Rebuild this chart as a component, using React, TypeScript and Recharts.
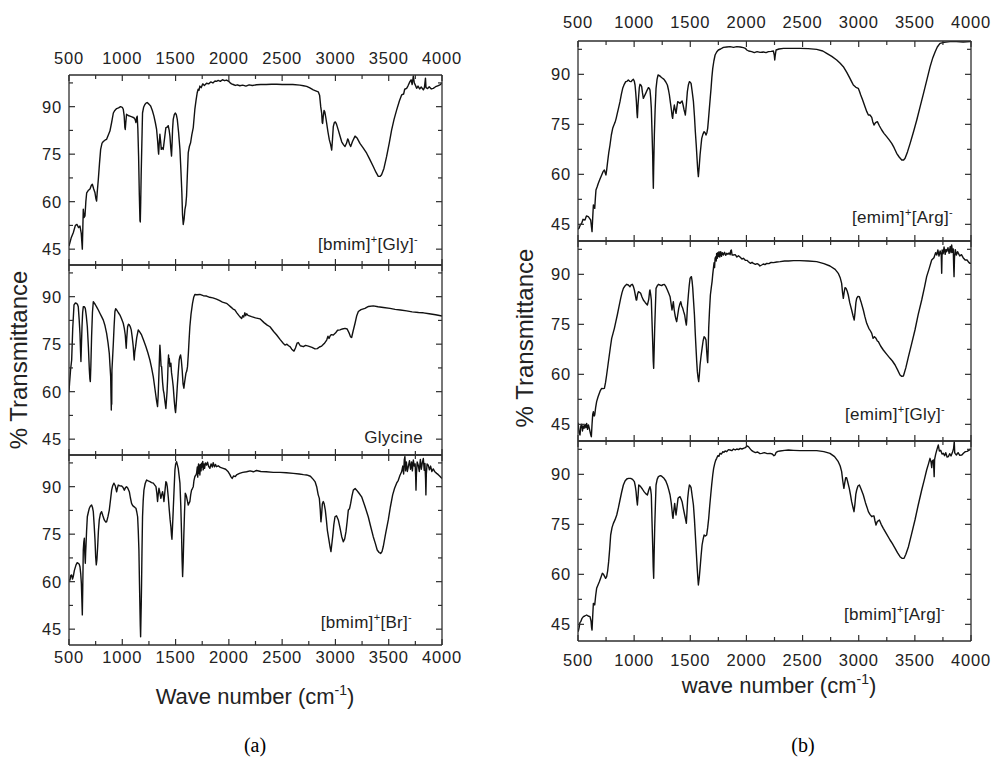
import React from 'react';
import { LineChart, Line, XAxis, YAxis } from 'recharts';

type Pt = [number, number];

// wavenumber ticks every 250 cm-1, labelled every 500
const wnTicks = [500, 750, 1000, 1250, 1500, 1750, 2000, 2250, 2500, 2750, 3000, 3250, 3500, 3750, 4000];
// transmittance ticks every 7.5 %, labelled every 15
const tTicks = [45, 52.5, 60, 67.5, 75, 82.5, 90, 97.5];

// (a) [bmim]+[Gly]-
const bmimGly: Pt[] = [
  [500, 46], [520, 48.5], [540, 50.2], [560, 52.5], [575, 52.8], [590, 51.8], [603, 52.3], [615, 50], [625, 45], [630, 52],
  [634, 57.6], [642, 55], [650, 55.5], [658, 60], [666, 62.8], [680, 63.5], [697, 64], [710, 65.2], [719, 65.5], [732, 64],
  [744, 62.8], [752, 61], [759, 60.2], [765, 63], [775, 67], [786, 72], [797, 76.5], [810, 78.5], [822, 79], [840, 79.5],
  [853, 79.7], [868, 81], [884, 82.3], [900, 85], [916, 88], [930, 88.8], [947, 89.4], [965, 89.6], [984, 90], [1000, 89.8],
  [1009, 89.2], [1018, 87], [1024, 83.5], [1028, 82.8], [1033, 85], [1040, 87.6], [1055, 87.2], [1072, 87], [1090, 86.8],
  [1109, 86.5], [1120, 86], [1128, 85], [1134, 86.5], [1140, 87], [1146, 83], [1153, 74.4], [1160, 62], [1166, 54],
  [1169, 53.6], [1173, 60], [1177, 68], [1181, 74.4], [1186, 82], [1190, 88], [1200, 89.8], [1212, 90.7], [1225, 91.2],
  [1234, 91.3], [1250, 90.8], [1266, 90.2], [1282, 88.8], [1297, 87], [1310, 85], [1322, 82.8], [1332, 79], [1338, 76],
  [1341, 75], [1346, 78], [1353, 81.3], [1360, 79], [1366, 76.5], [1375, 77], [1384, 76.5], [1395, 79.5], [1409, 83.4],
  [1420, 83.5], [1431, 84], [1440, 82.5], [1447, 80.7], [1455, 77], [1462, 74.4], [1468, 79], [1472, 83], [1478, 86],
  [1488, 87.5], [1497, 88], [1507, 87.5], [1516, 86], [1528, 82], [1541, 76.5], [1550, 70], [1559, 62.8], [1565, 56],
  [1572, 52.8], [1580, 54.5], [1588, 57.6], [1596, 59], [1603, 61.8], [1610, 68], [1619, 75.5], [1630, 77.5], [1641, 78.6],
  [1652, 81], [1666, 83.4], [1674, 86.5], [1681, 89.2], [1692, 92], [1703, 94.4], [1712, 95.5], [1720, 95.2], [1728, 96.5],
  [1740, 96], [1755, 97.2], [1770, 96.7], [1791, 97.4], [1810, 97.2], [1830, 97.8], [1850, 97.5], [1870, 98.1], [1884, 98],
  [1900, 98.3], [1920, 98], [1940, 98.5], [1960, 98.2], [1978, 98.4], [1995, 98.1], [2010, 97.6], [2025, 97.2], [2041, 97],
  [2060, 96.7], [2080, 96.9], [2103, 96.6], [2130, 96.8], [2160, 96.5], [2190, 96.9], [2220, 96.7], [2260, 96.9], [2300, 97],
  [2350, 97], [2400, 97.1], [2450, 97.1], [2500, 97], [2550, 97], [2600, 97], [2667, 96.8], [2700, 96.6], [2730, 96.4],
  [2760, 95.9], [2792, 95.3], [2815, 95], [2839, 94.7], [2852, 93.5], [2862, 90], [2871, 87.9], [2876, 85], [2880, 84.7],
  [2886, 87], [2893, 88.8], [2900, 88.4], [2910, 86.5], [2918, 84.7], [2930, 82], [2943, 79.5], [2955, 78], [2965, 76.3],
  [2972, 79.5], [2980, 83.7], [2990, 85], [2999, 85.2], [3010, 84.5], [3027, 82.6], [3045, 80.5], [3059, 78.9], [3075, 78],
  [3090, 77.4], [3105, 78.5], [3115, 79.8], [3121, 79.5], [3132, 78.2], [3143, 77.4], [3160, 79], [3184, 80.7], [3205, 80],
  [3230, 78.4], [3260, 77], [3293, 75.3], [3320, 73.5], [3355, 71.1], [3380, 69.3], [3402, 68], [3420, 68], [3433, 68.5],
  [3455, 70.5], [3480, 74.2], [3505, 78.5], [3527, 82.6], [3550, 86], [3574, 88.9], [3600, 91.8], [3621, 93.7], [3640, 94],
  [3650, 95.5], [3668, 95.8], [3680, 96.5], [3699, 97.9], [3710, 98.5], [3720, 97], [3731, 99.7], [3740, 97.5], [3750, 96.8],
  [3762, 95.8], [3775, 96.5], [3790, 95.6], [3805, 96.2], [3825, 95.3], [3835, 96], [3845, 99], [3850, 96], [3865, 95.7],
  [3880, 96.3], [3900, 95.6], [3918, 95.8], [3940, 96.3], [3960, 96.6], [3980, 96.9], [4000, 97.4],
];

// (a) glycine
const glycine: Pt[] = [
  [500, 60], [505, 62.6], [515, 67], [525, 70], [535, 80], [547, 87.4], [560, 88], [572, 87.9], [580, 87.5], [587, 86.8],
  [595, 83], [603, 78.4], [608, 73], [612, 69.5], [616, 74], [622, 80.5], [628, 85], [634, 86.8], [645, 86.8], [653, 86.3],
  [662, 84], [672, 80.5], [682, 74], [691, 66.8], [696, 64], [700, 63.2], [705, 68], [712, 77.4], [720, 85], [728, 88.4],
  [745, 87.6], [759, 86.8], [775, 85.8], [791, 84.7], [806, 83.7], [822, 82.6], [838, 80.8], [853, 78.4], [866, 75.5],
  [878, 72.1], [885, 68], [891, 64.7], [894, 59], [897, 54.2], [899, 60], [901, 56], [903, 66.8], [908, 70], [916, 75.3],
  [923, 80.5], [931, 85.3], [938, 86.2], [947, 85.8], [962, 85], [978, 84.2], [993, 83], [1009, 81.6], [1019, 80],
  [1028, 77.9], [1033, 75.5], [1037, 73.7], [1042, 77], [1050, 80.5], [1058, 81.3], [1066, 81.1], [1075, 80.5], [1084, 79.5],
  [1094, 77], [1103, 74.2], [1108, 71.5], [1112, 70], [1117, 72.5], [1125, 74.2], [1135, 77], [1150, 79.5], [1165, 78.8],
  [1181, 77.9], [1200, 76.2], [1222, 74.2], [1240, 72.3], [1259, 70], [1275, 67.5], [1291, 64.7], [1302, 62], [1312, 59.5],
  [1322, 57], [1331, 55.3], [1337, 59], [1344, 65.8], [1350, 72], [1353, 74.7], [1358, 72], [1364, 68], [1369, 67.9],
  [1378, 63], [1385, 60.5], [1391, 59.5], [1400, 57], [1409, 54.7], [1416, 58], [1420, 60], [1425, 63.7], [1430, 69],
  [1434, 71.6], [1437, 69], [1441, 70.5], [1447, 67.9], [1456, 69], [1462, 66], [1470, 64], [1478, 61.6], [1488, 57],
  [1495, 54.5], [1500, 53.4], [1506, 56], [1516, 61.6], [1525, 66], [1534, 70], [1540, 71], [1547, 71.6], [1554, 70],
  [1562, 66.8], [1570, 62.5], [1578, 61.1], [1585, 63], [1597, 65.8], [1605, 66.5], [1612, 67.9], [1620, 72], [1627, 76.5],
  [1634, 80.5], [1645, 84.5], [1659, 87.9], [1670, 89.8], [1681, 90.7], [1700, 90.6], [1728, 90.7], [1760, 90.3],
  [1791, 90.2], [1820, 89.8], [1850, 89.6], [1884, 89.2], [1910, 88.8], [1940, 88.3], [1978, 87.9], [2000, 87.3],
  [2020, 86.7], [2040, 86.1], [2056, 85.8], [2075, 84.9], [2095, 84], [2110, 83.4], [2120, 83.1], [2130, 84], [2140, 83.6],
  [2150, 84.9], [2158, 84], [2167, 84.6], [2180, 84.1], [2213, 83.7], [2250, 83.3], [2292, 83], [2330, 81.8], [2360, 81],
  [2386, 80.5], [2420, 79], [2449, 77.9], [2480, 76.5], [2510, 75.3], [2527, 74.7], [2545, 75], [2560, 74.5], [2574, 74.2],
  [2590, 73.4], [2611, 72.8], [2625, 73.8], [2640, 75.3], [2652, 75.5], [2670, 74.5], [2699, 74.2], [2720, 74.6],
  [2746, 74.4], [2780, 74], [2808, 73.5], [2830, 73.6], [2850, 74.1], [2871, 74.4], [2895, 75.2], [2918, 76.3], [2930, 77.5],
  [2940, 76.8], [2950, 77.6], [2960, 78], [2980, 77.9], [3000, 78.5], [3020, 79.4], [3043, 79.5], [3065, 79.8], [3090, 80],
  [3110, 79.8], [3130, 78.4], [3142, 77.3], [3152, 77.1], [3165, 79], [3184, 81.6], [3200, 84], [3215, 85.3], [3240, 85.9],
  [3277, 86.3], [3310, 86.9], [3355, 87.1], [3400, 86.8], [3450, 86.6], [3512, 86.3], [3560, 86], [3610, 85.8],
  [3668, 85.5], [3720, 85.2], [3780, 85], [3825, 84.9], [3880, 84.6], [3940, 84.3], [4000, 83.9],
];

// (a) [bmim]+[Br]-
const bmimBr: Pt[] = [
  [500, 60.5], [509, 60.5], [517, 62], [525, 62.1], [533, 60.8], [540, 61.6], [550, 63.5], [566, 65.3], [577, 66], [587, 65.8],
  [596, 65.5], [603, 64.7], [610, 62.5], [616, 59.5], [621, 54], [625, 49.5], [629, 58], [634, 70], [639, 72.5], [644, 73.7],
  [648, 69], [653, 65.8], [656, 69], [659, 71.1], [665, 76], [672, 80.5], [682, 82], [691, 83.2], [700, 83.8], [712, 84.2],
  [720, 83.5], [728, 82.1], [736, 78], [744, 73.2], [750, 68], [756, 65.3], [762, 67], [769, 71.1], [776, 76], [784, 79.5],
  [795, 81.5], [806, 82.1], [818, 80.8], [831, 79.5], [845, 78.8], [853, 78.9], [866, 80.6], [878, 82.6], [890, 86],
  [900, 88.9], [910, 90.3], [922, 91.1], [935, 90.2], [947, 88.4], [955, 89.6], [962, 90.5], [975, 90.3], [994, 90.2],
  [1006, 89.8], [1019, 88.9], [1030, 89.7], [1040, 90], [1052, 89.5], [1066, 88.4], [1076, 86.5], [1087, 84.7], [1098, 84],
  [1109, 83.7], [1120, 83.4], [1128, 83.2], [1136, 82], [1144, 80.5], [1150, 76], [1156, 70], [1161, 60], [1166, 51.1],
  [1169, 46], [1172, 42.6], [1175, 48], [1178, 53], [1181, 59.5], [1185, 70], [1190, 80.5], [1196, 85.5], [1203, 88.9],
  [1215, 91], [1228, 92.1], [1243, 91.8], [1259, 91.6], [1275, 91.3], [1291, 91.1], [1305, 90.5], [1316, 90], [1324, 88],
  [1331, 85.3], [1337, 87.5], [1344, 89.5], [1353, 88], [1362, 86.3], [1370, 87.5], [1378, 88.4], [1385, 87], [1391, 85.3],
  [1400, 88.5], [1409, 91.6], [1416, 91.2], [1422, 90], [1432, 86.5], [1441, 82.6], [1449, 79.5], [1456, 77.4], [1462, 74.5],
  [1466, 73.4], [1471, 77], [1478, 82.6], [1486, 89], [1494, 95.3], [1500, 97], [1509, 97.9], [1517, 96.9], [1525, 95.8],
  [1533, 93.5], [1541, 91.1], [1549, 84], [1556, 75.3], [1561, 67], [1566, 61.6], [1571, 66], [1578, 75.3], [1584, 82],
  [1591, 87.9], [1597, 87.5], [1603, 86.8], [1611, 85.5], [1619, 84.2], [1626, 84.8], [1634, 85.3], [1642, 87.5],
  [1650, 88.9], [1658, 89.4], [1666, 90], [1672, 91.8], [1681, 93.2], [1690, 93.6], [1697, 94.2], [1704, 96.2], [1708, 93],
  [1712, 95.8], [1716, 97.2], [1720, 94.2], [1724, 96.8], [1728, 93.7], [1734, 97], [1739, 95], [1744, 97.4], [1750, 96.2],
  [1755, 98], [1759, 95.3], [1766, 97.2], [1772, 95.8], [1780, 97.5], [1791, 96.8], [1800, 97.7], [1810, 96.4], [1822, 95.8],
  [1833, 97.2], [1845, 96.2], [1853, 97.6], [1865, 96.3], [1875, 97], [1884, 96.3], [1900, 96.6], [1920, 96.1], [1947, 95.8],
  [1970, 95.5], [1994, 94.7], [2010, 93.8], [2020, 93.1], [2031, 92.6], [2045, 93.4], [2060, 93.2], [2072, 93.7],
  [2100, 94.2], [2130, 94.5], [2166, 94.7], [2200, 95], [2230, 94.7], [2259, 95.1], [2300, 94.8], [2350, 94.7], [2417, 94.5],
  [2480, 94.5], [2540, 94.4], [2605, 94.2], [2660, 94], [2700, 93.8], [2730, 93.7], [2765, 93.3], [2792, 92.3], [2810, 91.5],
  [2824, 90], [2838, 87.5], [2849, 86.3], [2857, 83], [2864, 78.9], [2870, 81], [2877, 84.5], [2886, 85.3], [2895, 84.5],
  [2905, 82.6], [2915, 79.5], [2924, 76.3], [2935, 74], [2949, 71.1], [2958, 69.5], [2965, 71.5], [2974, 74.2], [2985, 78],
  [2996, 80.5], [3010, 80.8], [3027, 79.5], [3043, 77], [3059, 74.2], [3074, 72.6], [3087, 73.5], [3099, 75.8], [3110, 79],
  [3121, 82.6], [3132, 83], [3143, 84.7], [3155, 87], [3168, 88.9], [3185, 89.4], [3199, 88.9], [3220, 88], [3246, 86.8],
  [3275, 84], [3308, 80.5], [3330, 77.5], [3355, 74.2], [3375, 72], [3392, 70], [3410, 69.2], [3424, 68.9], [3437, 69.5],
  [3449, 71.1], [3470, 75], [3496, 79.5], [3515, 83.5], [3537, 87.4], [3555, 89.5], [3574, 91.1], [3590, 92], [3605, 93.5],
  [3621, 94.7], [3632, 96.5], [3640, 94], [3646, 98.5], [3652, 99.5], [3658, 95], [3666, 97.8], [3675, 94.8], [3684, 96.3],
  [3695, 98.2], [3705, 95.5], [3715, 97.8], [3722, 95], [3731, 98.4], [3740, 96.5], [3748, 97.2], [3753, 93], [3756, 88.9],
  [3760, 94], [3767, 97.8], [3777, 96.8], [3787, 94.8], [3797, 98.6], [3806, 95.5], [3815, 97.5], [3825, 98.9], [3833, 95.2],
  [3840, 97.3], [3846, 92], [3849, 87.4], [3853, 94], [3860, 97.2], [3871, 96.8], [3882, 95.3], [3893, 96.5], [3905, 94.8],
  [3918, 95.6], [3933, 94.7], [3950, 94.2], [3965, 93.8], [3980, 93.3], [4000, 92.6],
];

// (b) [emim]+[Arg]-
const emimArg: Pt[] = [
  [500, 43.5], [509, 43.8], [520, 44.8], [533, 45.3], [545, 46.5], [562, 46.3], [575, 47.5], [592, 47.3], [603, 46.8],
  [613, 46.3], [619, 44.5], [625, 42.8], [631, 47], [637, 50.8], [643, 50.5], [649, 49.8], [655, 53], [660, 55.3], [670, 56.2],
  [681, 57.3], [695, 58.5], [711, 59.8], [723, 60.8], [735, 61.3], [742, 60.5], [749, 59.8], [756, 61.5], [764, 63.8],
  [774, 66.5], [785, 68.8], [797, 71.8], [809, 73.8], [820, 74.8], [830, 75.6], [840, 76.8], [850, 78.3], [862, 80],
  [874, 81.8], [886, 84], [898, 85.8], [912, 87], [925, 87.8], [936, 87.9], [948, 88.3], [960, 87.9], [972, 87.8],
  [983, 88.2], [993, 88.5], [1001, 88], [1008, 86.8], [1014, 84.5], [1020, 81.8], [1025, 78.5], [1029, 77], [1034, 80.5],
  [1041, 83.8], [1046, 86], [1052, 87], [1060, 86.8], [1067, 86.3], [1074, 84.5], [1082, 82.8], [1092, 83.5], [1103, 84.3],
  [1115, 85.2], [1127, 86], [1135, 85.8], [1141, 85.3], [1147, 83], [1153, 79.8], [1159, 73], [1165, 65.8], [1168, 60],
  [1171, 55.8], [1174, 62], [1177, 67], [1180, 71.8], [1187, 79.5], [1195, 85.8], [1204, 88.5], [1213, 89.8], [1225, 89.6],
  [1236, 89.3], [1250, 88.9], [1266, 88.5], [1282, 87.7], [1296, 86.8], [1306, 85.3], [1314, 83.8], [1323, 81.5],
  [1332, 79.3], [1338, 77.5], [1343, 76.8], [1350, 79], [1358, 80.8], [1365, 79.5], [1373, 78.3], [1380, 80], [1388, 81.8],
  [1398, 81.6], [1409, 81.3], [1418, 81.7], [1427, 82], [1436, 80.8], [1445, 79.3], [1451, 78.5], [1456, 77.8], [1465, 81],
  [1474, 84.8], [1483, 86.8], [1492, 87.8], [1500, 87.6], [1507, 87.3], [1517, 84.8], [1528, 81.8], [1537, 77.5],
  [1545, 72.8], [1553, 68.8], [1560, 64.8], [1566, 61.5], [1572, 59.3], [1580, 62.5], [1587, 65.8], [1595, 68.5],
  [1602, 70.8], [1612, 72], [1623, 72.8], [1632, 72.5], [1640, 71.8], [1648, 72.5], [1655, 73.8], [1662, 76.5], [1670, 79.8],
  [1678, 83], [1685, 85.8], [1692, 89], [1700, 91.8], [1710, 94], [1721, 95.8], [1735, 96.7], [1750, 97.3], [1770, 97.6],
  [1795, 98.1], [1825, 98.2], [1854, 98.3], [1885, 98.1], [1914, 98.3], [1945, 98.2], [1973, 98], [1990, 97.8], [2003, 97.3],
  [2020, 97], [2047, 96.8], [2070, 96.5], [2095, 96.8], [2122, 96.6], [2150, 96.7], [2175, 96.5], [2196, 96.8], [2220, 96.9],
  [2240, 97], [2248, 95.8], [2252, 94.3], [2256, 95.5], [2264, 97.3], [2290, 97.6], [2330, 97.8], [2400, 97.8], [2477, 97.8],
  [2550, 97.7], [2626, 97.5], [2680, 97], [2715, 96.3], [2760, 95.4], [2804, 94.3], [2835, 93.3], [2863, 92.3], [2895, 90.5],
  [2922, 88.8], [2940, 87.6], [2952, 86.8], [2975, 86.1], [2996, 85.8], [3008, 84.8], [3018, 83.8], [3035, 82.3],
  [3056, 80.3], [3072, 78.8], [3086, 77.8], [3100, 77.8], [3116, 77.1], [3125, 75.8], [3136, 74.8], [3150, 75.5],
  [3166, 75.8], [3185, 74.5], [3205, 73.3], [3225, 72.3], [3249, 71.3], [3270, 70.4], [3294, 69.3], [3315, 68], [3338, 66.3],
  [3360, 65.2], [3383, 64.3], [3400, 64.3], [3413, 64.8], [3435, 66.8], [3458, 69.3], [3490, 73], [3517, 76.3], [3547, 80.3],
  [3577, 84.3], [3608, 88.5], [3636, 92.3], [3660, 95], [3681, 96.8], [3700, 98.2], [3724, 99.3], [3760, 99.6], [3813, 99.8],
  [3870, 99.8], [3930, 99.7], [3991, 99.8], [4000, 99.8],
];

// (b) [emim]+[Gly]-
const emimGly: Pt[] = [
  [500, 45.5], [503, 44.8], [510, 42.5], [518, 41.8], [525, 44.5], [533, 45], [540, 43], [547, 44.5], [554, 43.8], [562, 45],
  [570, 44], [577, 45.3], [585, 43.5], [593, 44.8], [601, 43.8], [609, 42.5], [614, 41.8], [619, 41.3], [625, 45], [631, 48],
  [637, 48.8], [643, 47.5], [649, 47.8], [657, 50], [666, 51.8], [678, 53.2], [690, 54.3], [700, 55.2], [711, 55.8],
  [723, 55.7], [735, 55.8], [745, 57.5], [755, 59.8], [767, 62.8], [779, 65.8], [790, 68.5], [800, 70.8], [812, 72.3],
  [824, 73.8], [837, 75.8], [850, 77.8], [865, 80.3], [880, 82.8], [892, 84.5], [904, 85.8], [918, 86.5], [934, 87],
  [948, 86.8], [963, 86.3], [975, 86.9], [984, 87], [993, 86.4], [1002, 85.3], [1012, 83.5], [1018, 82.3], [1023, 82.3],
  [1030, 84], [1038, 84.8], [1048, 84.6], [1058, 84.3], [1070, 83.2], [1082, 82.3], [1100, 81.5], [1118, 80.8], [1130, 82.5],
  [1138, 85], [1141, 85.3], [1147, 84], [1153, 82.3], [1159, 76], [1165, 69.8], [1170, 64], [1174, 61.8], [1178, 67],
  [1183, 73.8], [1189, 80], [1195, 85.8], [1205, 86.5], [1216, 87], [1230, 86.8], [1245, 86.6], [1257, 86.9], [1269, 87],
  [1283, 86.3], [1296, 85.3], [1308, 84.3], [1320, 83.3], [1330, 81], [1337, 79.3], [1343, 80.5], [1349, 81.8], [1356, 79.5],
  [1364, 77.8], [1372, 76.5], [1379, 75.8], [1388, 77.8], [1397, 79.8], [1406, 81], [1415, 81.8], [1424, 80.5], [1433, 79.8],
  [1441, 78.8], [1450, 77.8], [1458, 76], [1465, 74.8], [1468, 76], [1474, 80], [1483, 83.8], [1490, 86.5], [1498, 88.8],
  [1505, 89.2], [1510, 89.3], [1516, 88], [1522, 85.8], [1530, 81.5], [1537, 77.8], [1544, 72.5], [1551, 67.8], [1557, 64],
  [1563, 60.8], [1569, 59], [1575, 57.8], [1581, 60], [1587, 62.8], [1596, 65.5], [1605, 67.8], [1614, 70], [1623, 71.3],
  [1632, 71], [1640, 70.3], [1646, 67], [1652, 64.3], [1655, 63.5], [1659, 67], [1664, 73.8], [1671, 79], [1679, 83.8],
  [1687, 86], [1694, 87.8], [1700, 90], [1706, 91.8], [1712, 93.5], [1716, 92], [1721, 94.8], [1727, 95.3], [1731, 94],
  [1735, 96.3], [1740, 94.8], [1745, 96.5], [1750, 95.3], [1756, 96.8], [1762, 95.2], [1771, 96.8], [1778, 95.4],
  [1785, 96.5], [1795, 95.8], [1805, 96.6], [1815, 95.7], [1825, 96.3], [1835, 96], [1845, 96.4], [1855, 95.9], [1860, 97.1],
  [1866, 97.3], [1872, 95.8], [1884, 95.8], [1900, 95.9], [1915, 95.2], [1929, 95.6], [1945, 95.1], [1960, 94.6],
  [1973, 94.8], [1990, 94.2], [2005, 94.2], [2018, 93.8], [2035, 93.3], [2050, 93.6], [2062, 93.3], [2080, 93], [2095, 93.2],
  [2107, 93], [2120, 92.5], [2136, 92.8], [2150, 93.1], [2165, 92.9], [2181, 93.3], [2200, 93.2], [2220, 93.6], [2240, 93.5],
  [2270, 93.7], [2300, 93.8], [2340, 94], [2374, 94], [2420, 94.1], [2477, 94.1], [2550, 94], [2626, 93.8], [2690, 93.2],
  [2744, 92.5], [2790, 91.5], [2818, 90.3], [2835, 89], [2848, 87.3], [2856, 84.5], [2863, 82.8], [2870, 84.5], [2878, 86],
  [2887, 85.8], [2897, 85], [2907, 83.8], [2920, 81.5], [2937, 79.3], [2950, 77.5], [2960, 76.3], [2967, 78.5], [2975, 81.5],
  [2982, 82.8], [2993, 83.4], [3006, 83.3], [3020, 81.8], [3041, 79.3], [3055, 77.3], [3071, 75.3], [3090, 73.8], [3105, 73],
  [3116, 72.3], [3128, 70.8], [3140, 71.3], [3154, 70.8], [3166, 70], [3175, 69.8], [3195, 68.5], [3219, 67.3], [3250, 66],
  [3279, 64.8], [3300, 64], [3324, 62.8], [3345, 61.4], [3368, 59.8], [3383, 59.4], [3398, 59.5], [3420, 62], [3443, 65.3],
  [3470, 69], [3501, 73.3], [3530, 78], [3561, 82.3], [3585, 86], [3605, 89.3], [3628, 91.8], [3650, 94.3], [3670, 95],
  [3685, 96.5], [3695, 95.8], [3705, 97.3], [3715, 95.5], [3725, 97], [3735, 95.8], [3739, 90.3], [3743, 97.3], [3752, 96.2],
  [3760, 98.2], [3770, 96], [3777, 97.5], [3784, 96.8], [3795, 98], [3805, 96.3], [3815, 98.4], [3822, 96.5], [3828, 98.8],
  [3835, 96.6], [3842, 97.6], [3846, 92], [3849, 89.3], [3853, 95], [3860, 97.4], [3870, 95.8], [3880, 96.8], [3888, 96.3],
  [3900, 95.5], [3915, 95.9], [3930, 95], [3948, 94.3], [3965, 94.3], [3980, 93.6], [3991, 93.3], [4000, 93.3],
];

// (b) [bmim]+[Arg]-
const bmimArg: Pt[] = [
  [500, 42.8], [503, 43], [510, 44], [517, 45.5], [524, 45.8], [536, 46.8], [548, 47.3], [560, 47.5], [577, 47.8], [590, 47.5],
  [607, 47.3], [616, 46], [621, 44], [625, 43.3], [631, 47.5], [637, 51.3], [643, 51.2], [649, 50.8], [657, 53.5], [666, 55.8],
  [678, 56.8], [690, 57.8], [703, 59], [717, 60.3], [727, 60], [738, 59.3], [746, 58.8], [755, 59.3], [764, 61], [773, 63.8],
  [782, 67.5], [791, 71.8], [803, 74], [815, 75.3], [830, 76.4], [845, 77.8], [860, 80], [874, 82.3], [889, 84.7],
  [904, 86.8], [919, 88], [934, 88.6], [950, 88.8], [969, 88.8], [986, 88.5], [1002, 87.8], [1010, 86.5], [1017, 84.8],
  [1023, 82.5], [1029, 80.8], [1035, 83.5], [1041, 86.8], [1050, 86.6], [1058, 86.3], [1073, 85.6], [1088, 84.8],
  [1103, 84.2], [1118, 83.8], [1130, 85.3], [1141, 86.3], [1147, 85.5], [1153, 83.8], [1159, 76], [1165, 68.8], [1170, 62],
  [1174, 58.8], [1178, 66], [1183, 73.8], [1189, 80.5], [1195, 86.8], [1205, 88.5], [1216, 89.3], [1226, 89.5], [1236, 89.6],
  [1250, 89.3], [1266, 88.8], [1282, 88], [1296, 86.8], [1308, 85.4], [1320, 83.8], [1330, 81.5], [1337, 79.3], [1342, 77.5],
  [1346, 76.8], [1353, 79], [1361, 81.3], [1367, 79.5], [1373, 77.8], [1382, 80.3], [1391, 82.8], [1400, 83.1], [1409, 83.3],
  [1418, 82.6], [1427, 81.8], [1438, 79.8], [1450, 77.8], [1458, 76.5], [1465, 75.3], [1471, 79], [1477, 82.8], [1485, 85.3],
  [1492, 86.8], [1500, 86.5], [1507, 86], [1517, 83.5], [1528, 80.8], [1537, 76.5], [1545, 71.8], [1553, 67], [1560, 62.8],
  [1566, 59.5], [1572, 56.8], [1580, 59], [1587, 61.8], [1596, 65.5], [1605, 68.8], [1614, 70.5], [1623, 71.8], [1635, 71.5],
  [1646, 71.8], [1655, 74], [1664, 76.8], [1673, 80.5], [1682, 83.8], [1691, 87], [1700, 89.8], [1708, 91.8], [1718, 93.3],
  [1726, 94.2], [1735, 94.8], [1745, 95.6], [1755, 95.4], [1765, 96.3], [1778, 96.1], [1790, 96.8], [1800, 96.6], [1810, 97],
  [1825, 96.8], [1840, 97.4], [1854, 97.3], [1870, 97.1], [1885, 97.6], [1900, 97.3], [1914, 97.6], [1930, 97.4],
  [1945, 97.8], [1960, 97.6], [1973, 97.8], [1990, 98], [2005, 98.5], [2018, 98.3], [2030, 97.8], [2045, 97.2], [2062, 96.8],
  [2080, 96.5], [2100, 96.7], [2120, 96.2], [2136, 96.3], [2160, 96.5], [2185, 96.2], [2211, 96.3], [2230, 96.1],
  [2245, 95.6], [2255, 95.8], [2265, 96.6], [2280, 96.9], [2300, 97], [2340, 97.2], [2374, 97.3], [2420, 97.2], [2477, 97.1],
  [2550, 97.1], [2626, 97.1], [2690, 96.8], [2744, 96.3], [2785, 95.3], [2818, 93.8], [2835, 92.5], [2848, 90.8], [2858, 88],
  [2868, 85.8], [2876, 87.5], [2884, 89], [2892, 89], [2900, 88], [2916, 85.8], [2927, 83.8], [2937, 81.8], [2948, 80.2],
  [2958, 78.8], [2966, 81], [2974, 84], [2982, 85.3], [2993, 86.5], [3006, 86.8], [3020, 85.7], [3041, 83.8], [3060, 81.5],
  [3075, 80], [3086, 78.8], [3100, 78], [3116, 77.3], [3126, 77.5], [3136, 77.5], [3145, 76], [3154, 74.8], [3165, 75.8],
  [3184, 76.3], [3200, 75], [3219, 73.8], [3250, 72], [3279, 70.3], [3300, 69.2], [3324, 67.8], [3345, 66.5], [3368, 65.3],
  [3385, 64.8], [3404, 64.8], [3420, 66], [3443, 68.3], [3470, 72], [3501, 76.3], [3530, 80.8], [3561, 85.3], [3585, 88.5],
  [3605, 91.3], [3620, 93], [3635, 94.8], [3645, 93.5], [3650, 92], [3655, 94], [3665, 94.3], [3672, 89.3], [3676, 94.5],
  [3685, 96], [3697, 97.5], [3709, 98.8], [3718, 97], [3730, 97.2], [3742, 96.1], [3754, 96.3], [3765, 95.6], [3775, 96.5],
  [3787, 95.2], [3798, 95.3], [3810, 96.2], [3822, 95.5], [3835, 96.6], [3845, 97.8], [3851, 99.8], [3855, 96.5],
  [3858, 96.3], [3870, 95.8], [3885, 96.5], [3900, 95.7], [3918, 95.8], [3935, 96.4], [3950, 96.8], [3965, 96.9],
  [3980, 97.2], [3991, 97.5], [4000, 97.5],
];

const FRAME = '#2e2e2e';
const INK = '#111';
const TXT = '#222';
const SANS = '"Liberation Sans", Arial, Helvetica, sans-serif';
const SERIF = '"Liberation Serif", "Times New Roman", serif';
const TICK_FONT = 16.5;

const frameLine = { stroke: FRAME, strokeWidth: 1.3 };

// ticks point into the plot; minor ticks are shorter and never labelled
const xTick = (side: 'top' | 'bottom', gap: number | null) => (p: any) => {
  const v = p.payload.value;
  const major = v % 500 === 0;
  const dir = side === 'bottom' ? -1 : 1;
  return (
    <g>
      <line x1={p.x} x2={p.x} y1={p.y} y2={p.y + dir * (major ? 6 : 4)} stroke={FRAME} strokeWidth={1.2} />
      {gap !== null && major && (
        <text
          x={p.x}
          y={side === 'bottom' ? p.y + gap : p.y - gap}
          textAnchor="middle"
          fontSize={TICK_FONT}
          letterSpacing={0.8}
          fontFamily={SANS}
          fill={TXT}
        >
          {v}
        </text>
      )}
    </g>
  );
};

const yTick = (side: 'left' | 'right') => (p: any) => {
  const v = p.payload.value;
  const major = v % 15 === 0;
  const dir = side === 'left' ? 1 : -1;
  return (
    <g>
      <line x1={p.x} x2={p.x + dir * (major ? 6 : 4)} y1={p.y} y2={p.y} stroke={FRAME} strokeWidth={1.2} />
      {side === 'left' && major && (
        <text
          x={p.x - 7}
          y={p.y + 6}
          textAnchor="end"
          fontSize={TICK_FONT}
          letterSpacing={0.8}
          fontFamily={SANS}
          fill={TXT}
        >
          {v}
        </text>
      )}
    </g>
  );
};

// room round the plot box for tick labels ("4000" hangs past the right edge)
const M = { top: 30, right: 30, bottom: 34, left: 50 };

type SpectrumProps = {
  pts: Pt[];
  x: number;
  y: number;
  w: number;
  h: number;
  topGap?: number | null;
  bottomGap?: number | null;
};

// one framed spectrum; x/y/w/h give the plot box in page pixels
function Spectrum({ pts, x, y, w, h, topGap = null, bottomGap = null }: SpectrumProps) {
  const rows = pts.map(([wn, t]) => ({ wn, t }));
  return (
    <div style={{ position: 'absolute', left: x - M.left - 1, top: y - M.top - 1 }}>
      <LineChart width={w + M.left + M.right + 2} height={h + M.top + M.bottom + 2} data={rows} margin={M}>
        <XAxis
          xAxisId="b"
          dataKey="wn"
          type="number"
          domain={[500, 4000]}
          allowDataOverflow
          ticks={wnTicks}
          interval={0}
          height={1}
          tickSize={0}
          tickMargin={0}
          axisLine={frameLine}
          tickLine={false}
          tick={xTick('bottom', bottomGap)}
        />
        <XAxis
          xAxisId="t"
          orientation="top"
          dataKey="wn"
          type="number"
          domain={[500, 4000]}
          allowDataOverflow
          ticks={wnTicks}
          interval={0}
          height={1}
          tickSize={0}
          tickMargin={0}
          axisLine={frameLine}
          tickLine={false}
          tick={xTick('top', topGap)}
        />
        <YAxis
          yAxisId="l"
          type="number"
          domain={[40, 100]}
          allowDataOverflow
          ticks={tTicks}
          interval={0}
          width={1}
          tickSize={0}
          tickMargin={0}
          axisLine={frameLine}
          tickLine={false}
          tick={yTick('left')}
        />
        <YAxis
          yAxisId="r"
          orientation="right"
          type="number"
          domain={[40, 100]}
          allowDataOverflow
          ticks={tTicks}
          interval={0}
          width={1}
          tickSize={0}
          tickMargin={0}
          axisLine={frameLine}
          tickLine={false}
          tick={yTick('right')}
        />
        <Line
          xAxisId="b"
          yAxisId="l"
          dataKey="t"
          type="linear"
          stroke={INK}
          strokeWidth={1.4}
          strokeLinejoin="round"
          dot={false}
          activeDot={false}
          isAnimationActive={false}
        />
        {/* invisible twin so the top/right axes have a series */}
        <Line
          xAxisId="t"
          yAxisId="r"
          dataKey="t"
          stroke="none"
          dot={false}
          activeDot={false}
          isAnimationActive={false}
        />
      </LineChart>
    </div>
  );
}

// sample name with superscript charges, right-aligned at (x, y)
function Sample({ x, y, parts }: { x: number; y: number; parts: [string, string][] }) {
  return (
    <text x={x} y={y} textAnchor="end" fontSize={17} letterSpacing={0.3} fontFamily={SANS} fill={TXT}>
      {parts.map(([base, sup], i) => (
        <React.Fragment key={i}>
          <tspan dy={i === 0 ? 0 : 7}>{base}</tspan>
          {sup && (
            <tspan dy={-7} fontSize={11}>
              {sup}
            </tspan>
          )}
        </React.Fragment>
      ))}
    </text>
  );
}

export default function App() {
  const L = { x: 69, w: 373, h: 190 };
  const R = { x: 578, w: 393, h: 200 };
  return (
    <div style={{ position: 'absolute', left: 0, top: 0, width: 995, height: 770, background: '#fff', overflow: 'hidden' }}>
      <Spectrum pts={bmimGly} x={L.x} y={75} w={L.w} h={L.h} topGap={11} />
      <Spectrum pts={glycine} x={L.x} y={265} w={L.w} h={L.h} />
      <Spectrum pts={bmimBr} x={L.x} y={455} w={L.w} h={L.h} bottomGap={18} />

      <Spectrum pts={emimArg} x={R.x} y={41} w={R.w} h={R.h} topGap={13} />
      <Spectrum pts={emimGly} x={R.x} y={241} w={R.w} h={R.h} />
      <Spectrum pts={bmimArg} x={R.x} y={441} w={R.w} h={R.h} bottomGap={25} />

      <svg
        width={995}
        height={770}
        style={{ position: 'absolute', left: 0, top: 0, pointerEvents: 'none' }}
      >
        <Sample x={418} y={250} parts={[['[bmim]', '+'], ['[Gly]', '-']]} />
        <text x={423} y={443} textAnchor="end" fontSize={17} letterSpacing={0.3} fontFamily={SANS} fill={TXT}>
          Glycine
        </text>
        <Sample x={412} y={628} parts={[['[bmim]', '+'], ['[Br]', '-']]} />
        <Sample x={953} y={223} parts={[['[emim]', '+'], ['[Arg]', '-']]} />
        <Sample x={945} y={420} parts={[['[emim]', '+'], ['[Gly]', '-']]} />
        <Sample x={945} y={620} parts={[['[bmim]', '+'], ['[Arg]', '-']]} />

        <text
          x={18}
          y={360 + 8.5}
          transform="rotate(-90 18 360)"
          textAnchor="middle"
          fontSize={24}
          fontFamily={SANS}
          fill={TXT}
        >
          % Transmittance
        </text>
        <text
          x={524}
          y={338 + 8.5}
          transform="rotate(-90 524 338)"
          textAnchor="middle"
          fontSize={24}
          fontFamily={SANS}
          fill={TXT}
        >
          % Transmittance
        </text>

        <text x={255} y={704} textAnchor="middle" fontSize={22} fontFamily={SANS} fill={TXT}>
          Wave number (cm
          <tspan dy={-9} fontSize={14}>
            -1
          </tspan>
          <tspan dy={9}>)</tspan>
        </text>
        <text x={779} y={693} textAnchor="middle" fontSize={22} fontFamily={SANS} fill={TXT}>
          wave number (cm
          <tspan dy={-9} fontSize={14}>
            -1
          </tspan>
          <tspan dy={9}>)</tspan>
        </text>

        <text x={255} y={752} textAnchor="middle" fontSize={20} fontFamily={SERIF} fill="#000">
          (a)
        </text>
        <text x={803} y={752} textAnchor="middle" fontSize={20} fontFamily={SERIF} fill="#000">
          (b)
        </text>
      </svg>
    </div>
  );
}
